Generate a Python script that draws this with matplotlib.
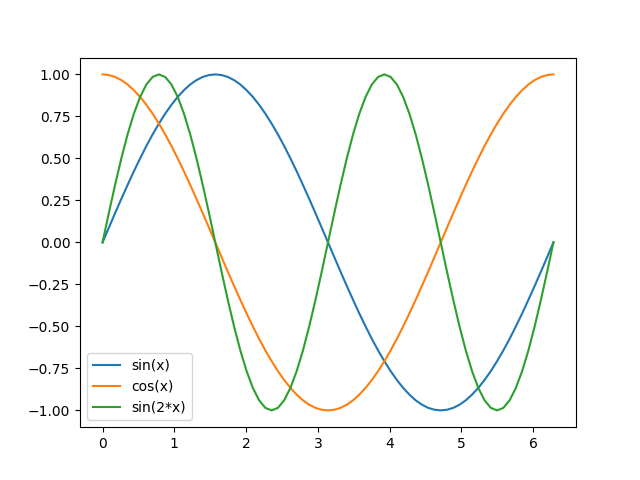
import numpy as np
import matplotlib
matplotlib.use("Agg")
import matplotlib.pyplot as plt

# x samples every 5 degrees from 0 to 2*pi
x = np.linspace(0, 6.2832, 73)

sin_x = [0, .087, .174, .259, .342, .423, .5, .574, .643, .707, .766, .819, .866, .906, .940, .966, .985, .996, 1.0,
         .996, .985, .966, .940, .906, .866, .819, .766, .707, .643, .574, .5, .423, .342, .259, .174, .087, 0,
         -.087, -.174, -.259, -.342, -.423, -.5, -.574, -.643, -.707, -.766, -.819, -.866, -.906, -.940, -.966, -.985, -.996, -1.0,
         -.996, -.985, -.966, -.940, -.906, -.866, -.819, -.766, -.707, -.643, -.574, -.5, -.423, -.342, -.259, -.174, -.087, 0]

cos_x = [1.0, .996, .985, .966, .940, .906, .866, .819, .766, .707, .643, .574, .5, .423, .342, .259, .174, .087, 0,
         -.087, -.174, -.259, -.342, -.423, -.5, -.574, -.643, -.707, -.766, -.819, -.866, -.906, -.940, -.966, -.985, -.996, -1.0,
         -.996, -.985, -.966, -.940, -.906, -.866, -.819, -.766, -.707, -.643, -.574, -.5, -.423, -.342, -.259, -.174, -.087, 0,
         .087, .174, .259, .342, .423, .5, .574, .643, .707, .766, .819, .866, .906, .940, .966, .985, .996, 1.0]

sin_2x = [0, .174, .342, .5, .643, .766, .866, .940, .985, 1.0, .985, .940, .866, .766, .643, .5, .342, .174,
          0, -.174, -.342, -.5, -.643, -.766, -.866, -.940, -.985, -1.0, -.985, -.940, -.866, -.766, -.643, -.5, -.342, -.174,
          0, .174, .342, .5, .643, .766, .866, .940, .985, 1.0, .985, .940, .866, .766, .643, .5, .342, .174,
          0, -.174, -.342, -.5, -.643, -.766, -.866, -.940, -.985, -1.0, -.985, -.940, -.866, -.766, -.643, -.5, -.342, -.174,
          0]

labels = ["sin(x)", "cos(x)", "sin(2*x)"]

fig, ax = plt.subplots(figsize=(6.4, 4.8), dpi=100)
for serie, nombre in zip([sin_x, cos_x, sin_2x], labels):
    ax.plot(x, serie, label=nombre)
ax.legend(loc="lower left")
fig.savefig("out.png")
